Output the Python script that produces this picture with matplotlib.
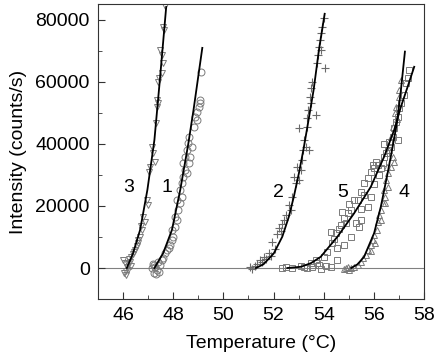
import matplotlib
matplotlib.use("Agg")
import matplotlib.pyplot as plt
from matplotlib.ticker import MultipleLocator

plt.rcParams["font.family"] = ["Liberation Sans", "DejaVu Sans"]

# measured points (temperature in C, intensity in counts/s)
s3_x = [46.01, 46.05, 46.08, 46.12, 46.15, 46.18, 46.21, 46.25, 46.28, 46.33, 46.38, 46.44,
        46.48, 46.55, 46.61, 46.68, 46.75, 46.81, 46.88, 46.95, 47.01, 47.05, 47.08, 47.15,
        47.21, 47.28, 47.30, 47.35, 47.41, 47.35, 47.41, 47.45, 47.48, 47.55, 47.59, 47.55,
        47.61, 47.65, 47.68, 46.10, 46.30, 46.58, 46.72]
s3_y = [2600, -1500, 1600, -2300, 300, -600, 1200, 2800, 1900, 3500, 4600, 5200,
        5800, 7000, 8100, 10000, 12300, 16500, 14800, 21900, 20300, 31000, 32600, 39000,
        37100, 34200, 46800, 52000, 53200, 54200, 60000, 61300, 70300, 68700, 66100, 62900,
        77700, 76800, 84500, -1000, 600, 9000, 13500]

s1_x = [47.15, 47.18, 47.22, 47.28, 47.30, 47.35, 47.45, 47.41, 47.48, 47.61, 47.68, 47.75,
        47.88, 47.95, 48.01, 47.95, 48.08, 48.15, 48.08, 48.21, 48.28, 48.15, 48.35, 48.28,
        48.35, 48.41, 48.48, 48.41, 48.48, 48.55, 48.57, 48.61, 48.55, 48.61, 48.68, 48.75,
        48.81, 48.88, 48.95, 49.01, 49.05, 49.08, 48.95, 49.12, 47.25, 47.55, 47.82]
s1_y = [-100, 1200, -1500, 400, -2000, -650, -1200, 2000, 1000, 3100, 4700, 5800,
        7400, 9000, 10100, 12300, 13300, 15500, 16500, 18700, 20900, 21900, 23000, 25200,
        27300, 29500, 31600, 33800, 35900, 38100, 40200, 42400, 30600, 33900, 35800, 39000,
        45500, 48700, 50300, 51900, 53200, 54200, 47700, 63200, 900, 2500, 6500]

s2_x = [51.08, 51.15, 51.25, 51.35, 51.45, 51.55, 51.62, 51.70, 51.80, 51.88, 51.95, 52.05,
        52.15, 52.22, 52.30, 52.35, 52.41, 52.48, 52.61, 52.68, 52.75, 52.88, 52.81, 53.01,
        53.08, 52.95, 53.15, 53.28, 53.41, 53.19, 53.21, 53.01, 53.35, 53.32, 53.68, 53.37,
        53.48, 53.45, 53.51, 53.55, 54.05, 53.75, 53.79, 53.88, 53.81, 53.85, 53.88, 53.95,
        54.01]
s2_y = [300, -200, 800, 1200, 2500, 1800, 3500, 2800, 4800, 3900, 8500, 6200,
        11000, 13000, 11800, 14200, 15500, 17100, 20300, 18700, 23000, 27300, 29500, 28400,
        31600, 32700, 34800, 39100, 38100, 38100, 41300, 45100, 45600, 48300, 49400, 51000,
        53100, 55300, 58000, 60100, 64600, 66000, 68700, 70300, 71400, 73500, 75700, 77800,
        80500]

s5_x = [52.35, 52.48, 52.75, 53.08, 53.21, 53.35, 53.48, 53.55, 53.68, 53.75, 53.81, 54.01,
        54.15, 54.28, 54.35, 54.28, 54.48, 54.55, 54.55, 54.81, 54.68, 54.81, 54.75, 54.95,
        55.08, 55.08, 55.28, 55.41, 55.48, 55.35, 55.48, 55.61, 55.75, 55.75, 55.88, 55.88,
        55.95, 56.08, 56.28, 56.01, 56.15, 56.35, 56.41, 56.55, 56.61, 56.68, 56.75, 56.95,
        56.81, 56.88, 56.95, 57.01, 57.08, 57.21, 57.28, 57.35, 57.41,
        53.90, 54.10, 54.40, 54.60, 54.90, 55.00, 55.20, 55.50, 55.60, 56.00, 56.20, 56.50,
        56.40]
s5_y = [-100, 200, -100, 650, 400, -100, 1500, 200, 2600, 1500, 1000, 3600,
        5300, 400, 8000, 11700, 11200, 2600, 6400, 7400, 13900, 16000, 18200, 17600,
        18700, 10100, 14400, 13300, 15500, 21900, 24600, 27300, 28900, 19800, 31100, 23000,
        33200, 34300, 32200, 32200, 33200, 33800, 35900, 38100, 40800, 39100, 42300, 41300,
        45100, 47200, 48800, 51500, 53100, 55800, 59600, 61200, 63900,
        -300, 800, 9500, 12500, 14500, 20500, 22000, 19000, 23500, 27000, 30000, 37000,
        40000]

s4_x = [54.81, 54.88, 54.95, 55.01, 55.08, 55.21, 55.35, 55.48, 55.55, 55.68, 55.75, 55.88,
        55.95, 56.01, 56.12, 56.15, 56.21, 56.28, 56.35, 56.44, 56.41, 56.55, 56.48, 56.57,
        56.52, 56.68, 56.81, 56.75, 56.68, 56.75, 56.92, 56.85, 57.02, 57.0,
        55.90, 56.05, 56.30, 56.45, 56.60, 56.90, 57.10]
s4_y = [-400, -100, 200, -650, -100, 200, 1000, 2000, 3100, 4200, 5800, 7400,
        9000, 10600, 12300, 14900, 17100, 18700, 20900, 23000, 25200, 26200, 28400, 30600,
        32700, 32700, 34300, 35900, 42400, 45600, 48000, 49900, 55300, 57400,
        5500, 8000, 15500, 21000, 38000, 52000, 60500]

# fitted curves
f3_x = [46.15, 46.4, 46.68, 46.97, 47.25, 47.46, 47.72]
f3_y = [0, 4800, 12300, 25200, 41300, 60000, 84200]
f1_x = [47.25, 47.6, 47.95, 48.28, 48.6, 48.81, 49.16]
f1_y = [0, 4800, 12300, 25200, 40000, 51000, 71000]
f2_x = [51.3, 51.6, 52.01, 52.35, 52.61, 52.81, 53.01, 53.2, 53.36, 53.6, 53.81, 54.04]
f2_y = [0, 1200, 4700, 10100, 16500, 23000, 30500, 38500, 46000, 57500, 70300, 82000]
f5_x = [52.55, 53.1, 53.5, 53.88, 54.55, 55.21, 55.88, 56.41, 56.81, 57.08, 57.35, 57.61]
f5_y = [0, 400, 1600, 3600, 10100, 17600, 26200, 35900, 44500, 52000, 58500, 64900]
f4_x = [55.1, 55.35, 55.61, 56.01, 56.28, 56.55, 56.75, 56.92, 57.08, 57.24]
f4_y = [0, 1200, 3600, 11200, 19800, 30600, 39100, 46700, 57400, 69800]

labels = ["3", "1", "2", "5", "4"]
label_x = [46.24, 47.76, 52.2, 54.76, 57.2]
label_y = [26100, 26100, 24500, 24500, 24500]

fig = plt.figure(figsize=(4.39, 3.56), dpi=100)
ax = fig.add_axes([0.2232, 0.1601, 0.7426, 0.8287])

ax.axhline(0, color="#808080", lw=0.8, zorder=1)

mk = dict(ls="none", mfc="none", mec="#7a7a7a", mew=0.7, ms=5, zorder=2)
ax.plot(s3_x, s3_y, marker="v", **mk)
ax.plot(s1_x, s1_y, marker="o", **mk)
ax.plot(s2_x, s2_y, marker="+", ls="none", color="#6a6a6a", mew=0.8, ms=6, zorder=2)
ax.plot(s5_x, s5_y, marker="s", **mk)
ax.plot(s4_x, s4_y, marker="^", **mk)

for fx, fy in [(f3_x, f3_y), (f1_x, f1_y), (f2_x, f2_y), (f5_x, f5_y), (f4_x, f4_y)]:
    ax.plot(fx, fy, color="black", lw=1.3, zorder=3)

for t, x, y in zip(labels, label_x, label_y):
    ax.text(x, y, t, fontsize=14, ha="center", va="center")

ax.set_xlim(45, 58)
ax.set_ylim(-10000, 85160)
ax.xaxis.set_major_locator(MultipleLocator(2))
ax.xaxis.set_minor_locator(MultipleLocator(1))
ax.yaxis.set_major_locator(MultipleLocator(20000))
ax.yaxis.set_minor_locator(MultipleLocator(10000))
ax.tick_params(which="both", direction="in", labelsize=14, colors="#333333",
               labelcolor="black")
ax.tick_params(which="major", length=5, pad=6)
ax.tick_params(which="minor", length=3)
for s in ax.spines.values():
    s.set_color("#333333")

ax.set_xlabel("Temperature (\u00b0C)", fontsize=14, labelpad=8)
ax.set_ylabel("Intensity (counts/s)", fontsize=14, labelpad=6)

fig.savefig("out.png", dpi=100)
